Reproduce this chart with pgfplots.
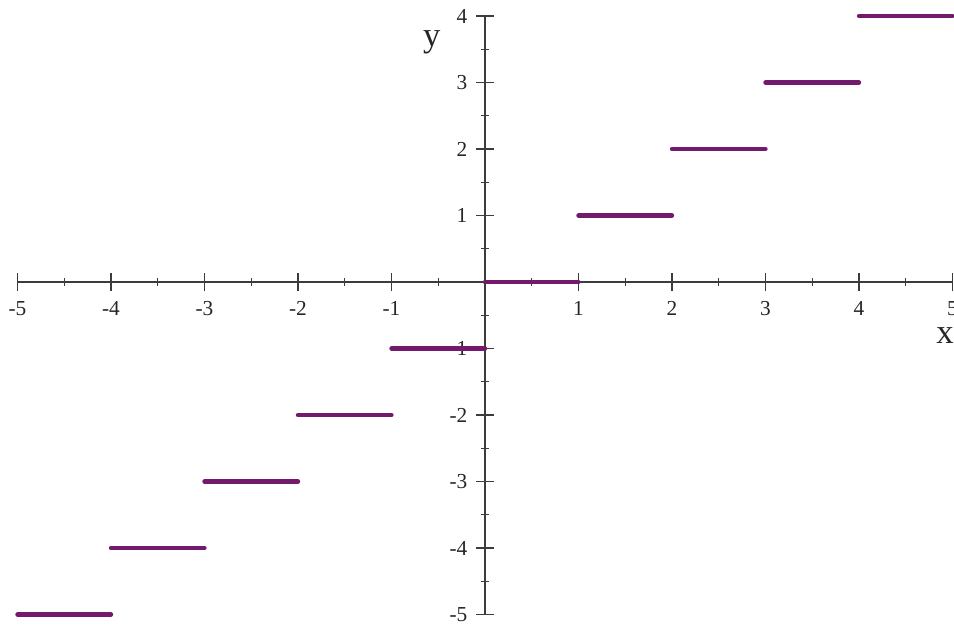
\documentclass[border=0pt]{standalone}
\usepackage{pgfplots}
\pgfplotsset{compat=1.18}
\usepackage{fontspec}
\setmainfont{Liberation Serif}
\definecolor{stepcol}{RGB}{115,26,108}
\definecolor{axcol}{RGB}{60,60,60}
\begin{document}
\begin{tikzpicture}[x=1pt,y=1pt]
\useasboundingbox (-13.125,-8.625) rectangle (702.375,460.875);
\clip (-13.125,-8.625) rectangle (702.375,460.875);
\begin{axis}[
  at={(0,0)}, anchor=south west,
  scale only axis,
  width=701.25pt, height=448.875pt,
  xmin=-5, xmax=5, ymin=-5, ymax=4,
  enlargelimits=false,
  axis lines=middle,
  axis line style={axcol, line width=1.1pt, -},
  every tick/.style={axcol, line width=0.9pt},
  tick align=center,
  major tick length=13.5pt,
  minor tick length=5.5pt,
  xtick={-5,-4,-3,-2,-1,1,2,3,4,5},
  xticklabels={-5,-4,-3,-2,-1,1,2,3,4,5},
  ytick={-5,-4,-3,-2,-1,1,2,3,4},
  yticklabels={-5,-4,-3,-2,-1,1,2,3,4},
  minor xtick={-4.5,-3.5,...,4.5},
  minor ytick={-4.5,-3.5,...,3.5},
  tick label style={font=\fontsize{16}{19}\selectfont, text=black!85},
  xticklabel style={anchor=north, yshift=-4pt},
  yticklabel style={anchor=east, xshift=-3pt},
  unbounded coords=jump,
  clip=false,
]
\addplot[stepcol, line width=3.3pt, line cap=round] coordinates {
  (-5,-5) (-4,-5) (-4,nan)
  (-4,-4) (-3,-4) (-3,nan)
  (-3,-3) (-2,-3) (-2,nan)
  (-2,-2) (-1,-2) (-1,nan)
  (-1,-1) (0,-1) (0,nan)
  (0,0) (1,0) (1,nan)
  (1,1) (2,1) (2,nan)
  (2,2) (3,2) (3,nan)
  (3,3) (4,3) (4,nan)
  (4,4) (5,4)
};
\node[font=\fontsize{26}{30}\selectfont, text=black!85] at (axis cs:-0.57,3.61) {y};
\node[font=\fontsize{26}{30}\selectfont, text=black!85] at (axis cs:4.92,-0.8) {x};
\end{axis}
\end{tikzpicture}
\end{document}
